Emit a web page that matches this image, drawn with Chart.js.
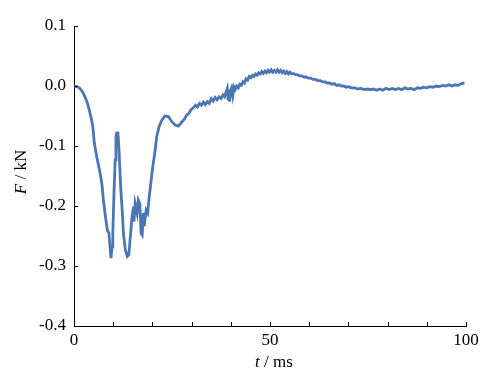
<!DOCTYPE html>
<html>
<head>
<meta charset="utf-8">
<script src="https://cdn.jsdelivr.net/npm/chart.js@4/dist/chart.umd.min.js"></script>
<style>
html,body{margin:0;padding:0;background:#fff;}
#wrap{width:502px;height:384px;position:relative;}
</style>
</head>
<body>
<div id="wrap"><canvas id="c" width="502" height="384"></canvas></div>
<script>
// time in ms
const timeMs = [
  0, 0.7, 1.5, 2.2, 2.8, 3.4, 3.9, 4.4, 4.8, 5.2, 5.8, 6.5, 7.1, 7.5, 7.9, 8.5, 8.9, 9.2, 9.45, 9.7, 9.9,
  10.2, 10.5, 10.7, 10.9, 11.2, 11.4, 11.6, 11.9, 12.3, 12.6, 13.1, 13.6, 14.0, 14.3, 14.6, 14.8,
  15.2, 15.3, 15.6, 16.1, 16.4, 16.8, 17.1, 17.4, 17.7, 17.9, 18.4, 18.8, 19.1, 19.6, 20.1, 20.7,
  21.1, 21.7, 22.4, 23.2, 24.1, 24.9, 25.8, 26.6, 27.5, 28.2, 28.8, 29.3, 29.8, 30.5, 31.0, 31.5,
  32.0, 32.5, 33.0, 33.5, 34.0, 34.5, 35.0, 35.5, 36.0, 36.5, 37.0, 37.5, 38.0, 38.4, 38.8, 39.1,
  39.3, 39.5, 39.7, 39.9, 40.2, 40.5, 40.8, 41.1, 41.5, 41.9, 42.3, 42.7, 43.1, 43.5, 43.9, 44.3,
  44.7, 45.1, 45.5, 45.9, 46.3, 46.7, 47.1, 47.5, 47.9, 48.3, 48.7, 49.1, 49.5, 49.9, 50.3, 50.7,
  51.1, 51.5, 51.9, 52.3, 52.7, 53.1, 53.5, 53.9, 54.3, 54.7, 55.1, 55.5, 56.0, 56.5, 57.0, 57.5,
  58.0, 58.6, 59.2, 59.8, 60.4, 61.0, 61.6, 62.2, 62.8, 63.4, 64.0, 64.6, 65.2, 65.8, 66.4, 67.0,
  67.6, 68.2, 68.8, 69.4, 70.0, 70.8, 71.6, 72.4, 73.2, 74.0, 74.8, 75.6, 76.4, 77.2, 78.0, 78.8,
  79.6, 80.4, 81.2, 82.0, 82.8, 83.6, 84.4, 85.2, 86.0, 86.8, 87.6, 88.4, 89.2, 90.0, 90.8, 91.6,
  92.4, 93.2, 94.0, 94.8, 95.6, 96.4, 97.2, 98.0, 98.8, 99.6
];
// force in kN
const forceKN = [
  0, -0.001, -0.004, -0.010, -0.018, -0.028, -0.040, -0.054, -0.068, -0.096, -0.118, -0.140, -0.162, -0.190, -0.212, -0.240, -0.245, -0.268, -0.287, -0.268, -0.245,
  -0.179, -0.123, -0.084, -0.078, -0.078, -0.096, -0.123, -0.168, -0.207, -0.245, -0.273, -0.284, -0.281, -0.257, -0.234, -0.218,
  -0.201, -0.226, -0.196, -0.212, -0.190, -0.196, -0.245, -0.248, -0.212, -0.234, -0.207, -0.212, -0.190, -0.162, -0.134, -0.107,
  -0.084, -0.068, -0.057, -0.050, -0.051, -0.059, -0.065, -0.067, -0.060, -0.055, -0.048, -0.046, -0.040, -0.036, -0.032, -0.035,
  -0.029, -0.032, -0.027, -0.031, -0.026, -0.029, -0.021, -0.025, -0.019, -0.023, -0.018, -0.021, -0.015, -0.018, -0.010, -0.004,
  -0.022, -0.006, -0.026, -0.008, -0.003, -0.016, -0.002, -0.006, 0.000, -0.003, 0.003, 0.001, 0.007, 0.005, 0.012, 0.010,
  0.016, 0.014, 0.018, 0.016, 0.020, 0.018, 0.022, 0.020, 0.024, 0.021, 0.025, 0.022, 0.026, 0.023, 0.027, 0.023,
  0.026, 0.023, 0.027, 0.023, 0.026, 0.022, 0.025, 0.021, 0.024, 0.020, 0.023, 0.020, 0.021, 0.019, 0.019, 0.017,
  0.017, 0.015, 0.015, 0.013, 0.013, 0.011, 0.011, 0.009, 0.009, 0.007, 0.007, 0.005, 0.005, 0.003, 0.004, 0.001,
  0.002, 0.000, 0.000, -0.002, -0.001, -0.003, -0.003, -0.005, -0.004, -0.006, -0.005, -0.006, -0.005, -0.007, -0.005, -0.007,
  -0.004, -0.006, -0.004, -0.006, -0.004, -0.006, -0.003, -0.005, -0.004, -0.006, -0.003, -0.004, -0.002, -0.003, -0.001, -0.002,
  0.000, -0.001, 0.001, 0.000, 0.002, 0.000, 0.002, 0.001, 0.004, 0.005
];
const xTickLabels = ['0', '50', '100'];
const yTickLabels = ['-0.4', '-0.3', '-0.2', '-0.1', '0.0', '0.1'];
const xTitleParts = [['t', true], [' / ms', false]];
const yTitleParts = [['F', true], [' / kN', false]];

const FONT = '"Liberation Serif", "Times New Roman", serif';
const FS = 17;

const points = timeMs.map((t, i) => ({ x: t, y: forceKN[i] }));

const decorPlugin = {
  id: 'decor',
  afterDraw(chart) {
    const ctx = chart.ctx;
    const xs = chart.scales.x, ys = chart.scales.y;
    const area = chart.chartArea;
    ctx.save();
    ctx.strokeStyle = '#000';
    ctx.lineWidth = 1;
    xs.ticks.forEach(tk => {
      const px = Math.round(xs.getPixelForValue(tk.value)) + 0.5;
      ctx.beginPath();
      ctx.moveTo(px, area.bottom);
      ctx.lineTo(px, area.bottom - 4);
      ctx.stroke();
    });
    ys.ticks.forEach(tk => {
      const py = Math.round(ys.getPixelForValue(tk.value)) + 0.5;
      ctx.beginPath();
      ctx.moveTo(area.left, py);
      ctx.lineTo(area.left + 4, py);
      ctx.stroke();
    });
    function drawParts(parts, cx, cy) {
      const widths = parts.map(([s, it]) => {
        ctx.font = (it ? 'italic ' : '') + FS + 'px ' + FONT;
        return ctx.measureText(s).width;
      });
      const total = widths.reduce((a, b) => a + b, 0);
      let x = cx - total / 2;
      ctx.fillStyle = '#000';
      ctx.textBaseline = 'alphabetic';
      ctx.textAlign = 'left';
      parts.forEach(([s, it], i) => {
        ctx.font = (it ? 'italic ' : '') + FS + 'px ' + FONT;
        ctx.fillText(s, x, cy);
        x += widths[i];
      });
    }
    drawParts(xTitleParts, (area.left + area.right) / 2 + 4, 367);
    ctx.save();
    ctx.translate(26, 172);
    ctx.rotate(-Math.PI / 2);
    drawParts(yTitleParts, 0, 0);
    ctx.restore();
    ctx.restore();
  }
};

new Chart(document.getElementById('c'), {
  type: 'line',
  data: {
    datasets: [{
      data: points,
      borderColor: '#4b76b6',
      borderWidth: 2.8,
      pointRadius: 0,
      tension: 0,
      fill: false
    }]
  },
  options: {
    responsive: false,
    animation: false,
    events: [],
    layout: { padding: { top: 26, right: 36, left: 0, bottom: 0 } },
    plugins: { legend: { display: false }, tooltip: { enabled: false } },
    scales: {
      x: {
        type: 'linear',
        min: 0, max: 100,
        afterFit(s) { s.height = 58; },
        grid: { display: false, drawTicks: false },
        border: { display: true, color: '#000', width: 1 },
        ticks: {
          stepSize: 10, autoSkip: false, maxRotation: 0, padding: 4,
          color: '#000', font: { family: FONT, size: FS },
          callback: v => {
            const lab = String(Math.round(v));
            return xTickLabels.includes(lab) ? lab : '';
          }
        }
      },
      y: {
        type: 'linear',
        min: -0.4, max: 0.1,
        afterFit(s) { s.width = 74; },
        grid: { display: false, drawTicks: false },
        border: { display: true, color: '#000', width: 1 },
        ticks: {
          stepSize: 0.1, padding: 8,
          color: '#000', font: { family: FONT, size: FS },
          callback: v => {
            const idx = Math.round((v + 0.4) / 0.1);
            return yTickLabels[idx] !== undefined ? yTickLabels[idx] : '';
          }
        }
      }
    }
  },
  plugins: [decorPlugin]
});
</script>
</body>
</html>
